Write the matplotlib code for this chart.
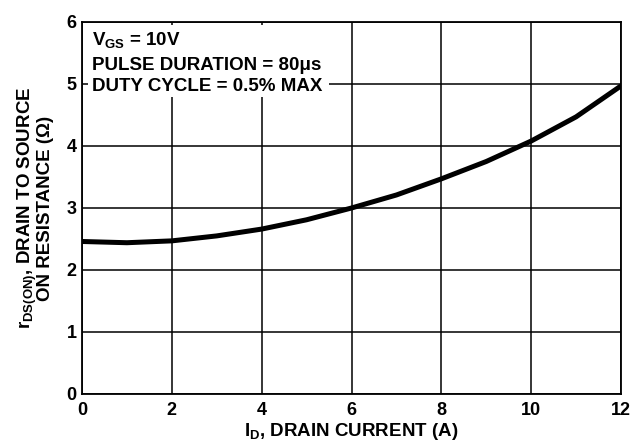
import matplotlib
matplotlib.use("Agg")
import matplotlib.pyplot as plt
from matplotlib.patches import Rectangle

plt.rcParams['font.family'] = ['Liberation Sans', 'DejaVu Sans']
plt.rcParams['font.weight'] = 'bold'
plt.rcParams['mathtext.fontset'] = 'custom'
plt.rcParams['mathtext.rm'] = 'Liberation Sans:bold'
plt.rcParams['mathtext.it'] = 'Liberation Sans:bold'
plt.rcParams['mathtext.bf'] = 'Liberation Sans:bold'
plt.rcParams['mathtext.default'] = 'rm'

# Data
drain_current = [0, 1, 2, 3, 4, 5, 6, 7, 8, 9, 10, 11, 12]
r_ds_on = [2.46, 2.44, 2.47, 2.55, 2.66, 2.81, 3.00, 3.21, 3.47, 3.75, 4.08, 4.47, 4.97]
x_ticks = [0, 2, 4, 6, 8, 10, 12]
y_ticks = [0, 1, 2, 3, 4, 5, 6]
conditions = ['V$_{GS}$ = 10V', 'PULSE DURATION = 80\u03bcs', 'DUTY CYCLE = 0.5% MAX']

fig = plt.figure(figsize=(6.34, 4.46), dpi=100)
ax = fig.add_axes([82/634, 1 - 394/446, (621-82)/634, (394-22)/446])

ax.plot(drain_current, r_ds_on, color='black', linewidth=3.6, solid_capstyle='butt', zorder=3)

ax.set_xlim(0, 12)
ax.set_ylim(0, 6)
ax.set_xticks(x_ticks)
ax.set_yticks(y_ticks)
ax.tick_params(length=0, labelsize=13)
ax.tick_params(axis='x', pad=6)
ax.tick_params(axis='y', pad=4)
for lbl in ax.get_xticklabels() + ax.get_yticklabels():
    lbl.set_fontweight('bold')
ax.grid(True, color='black', linewidth=1.1)
ax.set_axisbelow(True)
for s in ax.spines.values():
    s.set_linewidth(1.3)
    s.set_zorder(5)

ax.set_xlabel(r'I$_{D}$, DRAIN CURRENT (A)', fontsize=13.5, fontweight='bold', labelpad=1)
ax.set_ylabel('r$_{DS(ON)}$, DRAIN TO SOURCE\nON RESISTANCE (\u03a9)', fontsize=13.5,
              fontweight='bold', labelpad=9, linespacing=0.85)

# white backing behind the condition text (hides grid lines)
ax.add_patch(Rectangle((0.134, 4.79), 5.37, 1.16, facecolor='white', edgecolor='none',
                       zorder=2))
baselines = [5.63, 5.225, 4.885]
for txt, yb in zip(conditions, baselines):
    ax.text(0.22, yb, txt, fontsize=13.5, fontweight='bold', va='baseline', ha='left',
            zorder=4)

fig.savefig('out.png', dpi=100)
